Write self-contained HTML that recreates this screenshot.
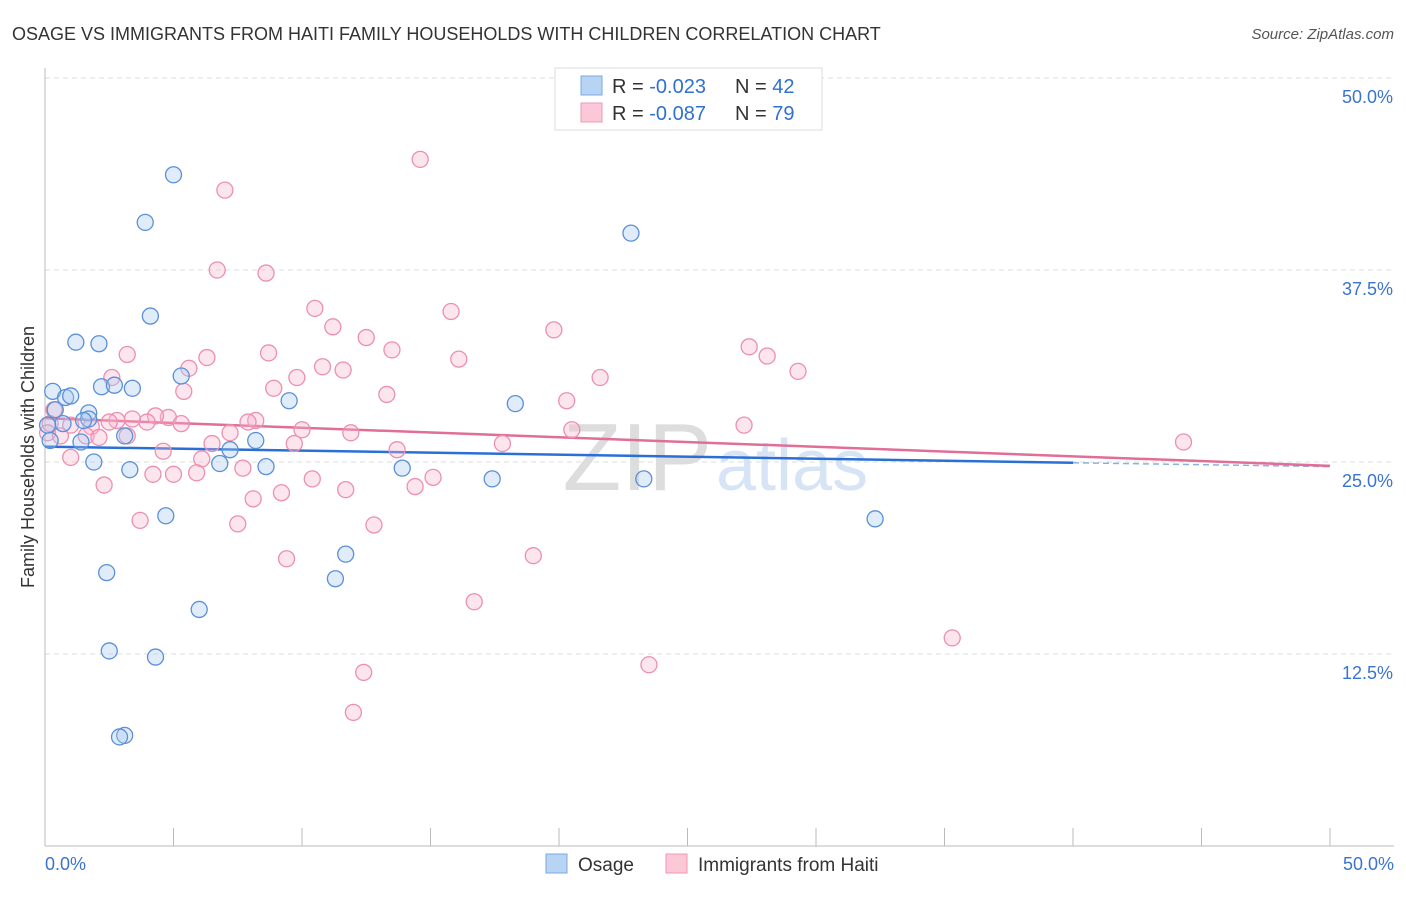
<!DOCTYPE html>
<html><head><meta charset="utf-8"><style>
body{margin:0;background:#fff;font-family:"Liberation Sans",sans-serif;}
svg text{font-family:"Liberation Sans",sans-serif;}
</style></head><body>
<svg id="chart" width="1406" height="892">
<text x="12" y="40" font-size="18" fill="#333">OSAGE VS IMMIGRANTS FROM HAITI FAMILY HOUSEHOLDS WITH CHILDREN CORRELATION CHART</text>
<text x="1394" y="39" font-size="15" fill="#555" text-anchor="end" font-style="italic">Source: ZipAtlas.com</text>
<text x="712" y="490" font-size="96" fill="#ddd" text-anchor="end" font-family="Liberation Serif">ZIP</text>
<text x="716" y="490" font-size="72" fill="#d6e4f5">atlas</text>
<g id="grid"></g><g id="axes"></g><g id="trend"></g><g id="pts"></g>
<text transform="translate(34,457) rotate(-90)" font-size="18" fill="#333" text-anchor="middle">Family Households with Children</text>
<g>
<rect x="555" y="68" width="267" height="62" fill="#fff" stroke="#ddd"/>
<rect x="581" y="76" width="21" height="19" fill="#b8d4f5" stroke="#7aa8e0"/>
<rect x="581" y="103" width="21" height="19" fill="#fcc8d8" stroke="#ee98b4"/>
<text x="612" y="93" font-size="20" fill="#333">R = <tspan fill="#3070d0">-0.023</tspan></text>
<text x="735" y="93" font-size="20" fill="#333">N = <tspan fill="#3070d0">42</tspan></text>
<text x="612" y="120" font-size="20" fill="#333">R = <tspan fill="#3070d0">-0.087</tspan></text>
<text x="735" y="120" font-size="20" fill="#333">N = <tspan fill="#3070d0">79</tspan></text>
</g>
<g>
<rect x="546" y="854" width="21" height="19" fill="#b8d4f5" stroke="#7aa8e0"/>
<text x="578" y="871" font-size="19" fill="#333">Osage</text>
<rect x="666" y="854" width="21" height="19" fill="#fcc8d8" stroke="#ee98b4"/>
<text x="698" y="871" font-size="19" fill="#333">Immigrants from Haiti</text>
</g>
</svg>
<script>
const blueX=[5.0,3.9,22.8,4.1,1.2,2.1,5.3,2.2,2.7,3.4,0.3,0.8,1.0,9.5,18.3,0.4,1.7,1.7,0.7,0.1,1.5,0.2,3.1,1.4,8.2,7.2,1.9,6.8,8.6,13.9,3.3,17.4,23.3,4.7,32.3,11.7,2.4,11.3,6.0,2.5,4.3,3.1,2.9];
const blueY=[43.7,40.6,39.9,34.5,32.8,32.7,30.6,29.9,30.0,29.8,29.6,29.2,29.3,28.99,28.8,28.4,28.2,27.8,27.5,27.4,27.7,26.4,26.7,26.3,26.4,25.8,25.0,24.9,24.7,24.6,24.5,23.9,23.9,21.5,21.3,19.0,17.8,17.4,15.4,12.7,12.3,7.2,7.1];
const pinkX=[14.6,7.0,6.7,8.6,10.5,15.8,11.2,19.8,12.5,27.4,3.2,6.3,13.5,8.7,16.1,28.1,11.6,10.8,5.6,2.6,9.8,21.6,29.3,5.4,8.9,13.3,20.3,8.2,4.8,4.3,3.97,5.3,3.4,2.8,7.9,1.8,0.2,1.0,0.1,0.6,1.6,2.1,3.2,10.0,11.9,20.5,27.2,7.2,6.5,9.7,17.8,4.6,13.7,1.0,6.1,7.7,4.2,5.0,5.9,10.4,15.1,2.3,11.7,14.4,9.2,8.1,3.7,7.5,12.8,19.0,9.4,16.7,35.3,23.5,12.4,12.0,44.3,0.35,2.5];
const pinkY=[44.7,42.7,37.5,37.3,35.0,34.8,33.8,33.6,33.1,32.5,32.0,31.8,32.3,32.1,31.7,31.9,30.99,31.2,31.1,30.5,30.5,30.5,30.9,29.6,29.8,29.4,28.99,27.7,27.9,28.0,27.6,27.5,27.8,27.7,27.6,27.3,27.5,27.4,26.9,26.7,26.7,26.6,26.7,27.1,26.9,27.1,27.4,26.9,26.2,26.2,26.2,25.7,25.8,25.3,25.2,24.6,24.2,24.2,24.3,23.9,24.0,23.5,23.2,23.4,23.0,22.6,21.2,20.97,20.9,18.9,18.7,15.9,13.55,11.8,11.3,8.7,26.3,28.4,27.6];
const yTicks=[12.5,25.0,37.5,50.0];
const X=v=>45+v*25.7, Y=v=>846-v*15.36;
const ns='http://www.w3.org/2000/svg';
function mk(p,t,a){const e=document.createElementNS(ns,t);for(const k in a)e.setAttribute(k,a[k]);document.getElementById(p).appendChild(e);return e;}
yTicks.forEach(t=>{
 const l=mk('grid','line',{x1:45,x2:1394,y1:Y(t),y2:Y(t),stroke:'#ddd','stroke-dasharray':'5,4'});
 
 
 const tx=mk('grid','text',{x:1393,y:Y(t)+25,'font-size':18,fill:'#3a74d0','text-anchor':'end'});
 tx.textContent=t.toFixed(1)+'%';
 
 
});
let a=mk('axes','line',{x1:45,x2:45,y1:68,y2:846,stroke:'#bbb'});


a=mk('axes','line',{x1:45,x2:1394,y1:846,y2:846,stroke:'#bbb'});


for(let i=1;i<=10;i++){const tk=mk('axes','line',{x1:X(i*5),x2:X(i*5),y1:828,y2:846,stroke:'#bbb'});
 
 }
[[0,'0.0%','start',45],[50,'50.0%','end',1394]].forEach(d=>{const t=mk('axes','text',{x:d[3],y:870,'font-size':18,fill:'#3a74d0','text-anchor':d[2]});t.textContent=d[1];
 
 });
let tl=mk('trend','line',{x1:X(0),y1:Y(26.0),x2:X(40),y2:Y(24.95),stroke:'#2a6fd6','stroke-width':2.5});


tl=mk('trend','line',{x1:X(40),y1:Y(24.95),x2:X(50),y2:Y(24.7),stroke:'#8ab0e0','stroke-width':1.5,'stroke-dasharray':'6,4'});


tl=mk('trend','line',{x1:X(0),y1:Y(27.85),x2:X(50),y2:Y(24.75),stroke:'#e06e96','stroke-width':2.5});


pinkX.forEach((x,i)=>{const c=mk('pts','circle',{cx:X(x),cy:Y(pinkY[i]),r:8,fill:'rgba(248,180,205,0.35)',stroke:'#ec8fb0','stroke-width':1.3});
 
 });
blueX.forEach((x,i)=>{const c=mk('pts','circle',{cx:X(x),cy:Y(blueY[i]),r:8,fill:'rgba(170,200,240,0.35)',stroke:'#5a90d8','stroke-width':1.3});
 
 });
</script>
</body></html>
